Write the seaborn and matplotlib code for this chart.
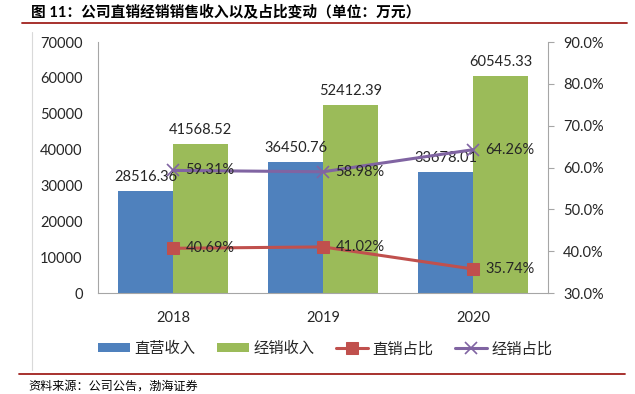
import numpy as np
import pandas as pd
import matplotlib
matplotlib.use("Agg")
import matplotlib.pyplot as plt
from matplotlib.lines import Line2D
import seaborn as sns

# Data (unit: 万元)
years = ["2018", "2019", "2020"]
direct_rev = [28516.36, 36450.76, 33678.01]
dealer_rev = [41568.52, 52412.39, 60545.33]
direct_share = [0.4069, 0.4102, 0.3574]
dealer_share = [0.5931, 0.5898, 0.6426]

bar_names = ["直营收入", "经销收入"]
line_names = ["直销占比", "经销占比"]

title = "图 11：公司直销经销销售收入以及占比变动（单位：万元）"
source = "资料来源：公司公告，渤海证券"

blue, green, red, purple = "#4F81BD", "#9BBB59", "#C0504D", "#8064A2"
grey = "#A6A6A6"

sns.set_style("white")
plt.rcParams["font.family"] = ["Lato", "Noto Sans CJK SC", "DejaVu Sans"]

df = pd.DataFrame({
    "year": years * 2,
    "value": direct_rev + dealer_rev,
    "kind": [bar_names[0]] * 3 + [bar_names[1]] * 3,
})

fig = plt.figure(figsize=(6.35, 3.94), dpi=100)
ax = fig.add_axes([0.1543, 0.2563, 0.7087, 0.6371])

sns.barplot(data=df, x="year", y="value", hue="kind", hue_order=bar_names,
            palette=[blue, green], width=0.733, saturation=1, ax=ax,
            errorbar=None, linewidth=0)
ax.set_xlim(-0.5, 2.5)
ax.set_ylim(0, 70000)
ax.set_yticks(np.arange(0, 70001, 10000))
ax.set_xlabel("")
ax.set_ylabel("")
ax.tick_params(axis="y", length=0, pad=11, labelsize=10.5, colors="#262626")
ax.tick_params(axis="x", length=0, pad=13, labelsize=10.5, colors="#262626")
for s in ["top", "right"]:
    ax.spines[s].set_visible(False)
for s in ["left", "bottom"]:
    ax.spines[s].set_color(grey)
    ax.spines[s].set_linewidth(0.8)

bar_handles, _ = ax.get_legend_handles_labels()
ax.get_legend().remove()

for cont in ax.containers:
    ax.bar_label(cont, labels=[f"{v:.2f}" for v in cont.datavalues],
                 padding=5, fontsize=10.5, color="#262626")

ax2 = ax.twinx()
xpos = np.arange(len(years))
sns.lineplot(x=xpos, y=direct_share, ax=ax2, color=red, linewidth=2.2,
             marker="s", markersize=9, markeredgecolor=red, label=line_names[0])
sns.lineplot(x=xpos, y=dealer_share, ax=ax2, color=purple, linewidth=2.2,
             marker="x", markersize=9, markeredgewidth=1.2,
             markeredgecolor=purple, label=line_names[1])
ax2.set_ylim(0.3, 0.9)
ax2.set_yticks(np.arange(0.3, 0.901, 0.1))
ax2.set_yticklabels([f"{t * 100:.1f}%" for t in np.arange(0.3, 0.901, 0.1)])
ax2.tick_params(axis="y", length=4, width=0.8, color=grey, pad=7,
                labelsize=10.5, colors="#262626")
ax2.tick_params(axis="y", color=grey)
for s in ["top", "left", "bottom"]:
    ax2.spines[s].set_visible(False)
ax2.spines["right"].set_color(grey)
ax2.spines["right"].set_linewidth(0.8)
line_handles, _ = ax2.get_legend_handles_labels()
ax2.get_legend().remove()

for vals in [direct_share, dealer_share]:
    for x, v in zip(xpos, vals):
        ax2.annotate(f"{v * 100:.2f}%", (x, v), xytext=(9, 0),
                     textcoords="offset points", va="center", ha="left",
                     fontsize=10.5, color="#262626")

fig.legend(bar_handles + line_handles, bar_names + line_names,
           loc="center", bbox_to_anchor=(0.512, 0.114), ncol=4, frameon=False,
           fontsize=11, handlelength=2.1, handleheight=0.55,
           handletextpad=0.3, columnspacing=1.4)

fig.text(0.049, 0.97, title, fontsize=10.6, fontweight="bold", va="center",
         ha="left", color="black")
fig.add_artist(Line2D([0.035, 0.987], [0.941, 0.941], color="#A0211E",
                      linewidth=1.3, transform=fig.transFigure))
fig.add_artist(Line2D([0.05, 0.05], [0.06, 0.92], color="#D9D9D9",
                      linewidth=0.8, transform=fig.transFigure))
fig.add_artist(Line2D([0.03, 0.985], [0.052, 0.052], color="#A0211E",
                      linewidth=1.3, transform=fig.transFigure))
fig.text(0.044, 0.022, source, fontsize=8.7, style="italic", va="center",
         ha="left", color="black")

fig.savefig("out.png", dpi=100)
